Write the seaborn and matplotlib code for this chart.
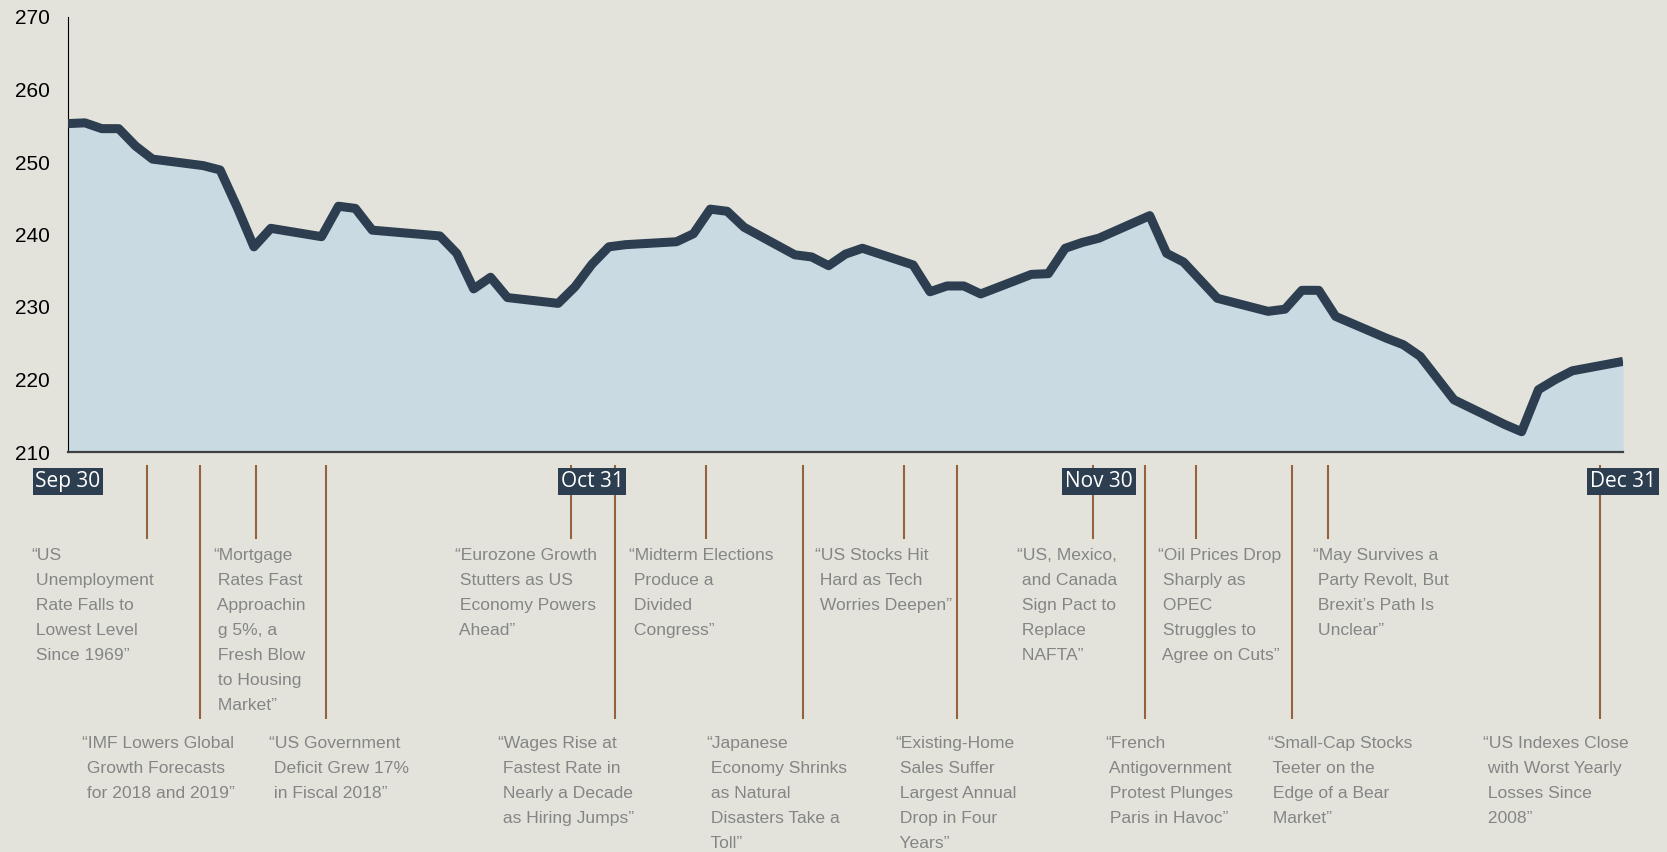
import pandas as pd
import matplotlib.pyplot as plt
import matplotlib.dates as mdates
import matplotlib.font_manager as fm
import seaborn as sns

# Index level, Q4 2018
dates = [
    "2018-09-30", "2018-10-01", "2018-10-02", "2018-10-03", "2018-10-04", "2018-10-05",
    "2018-10-08", "2018-10-09", "2018-10-10", "2018-10-11", "2018-10-12",
    "2018-10-15", "2018-10-16", "2018-10-17", "2018-10-18",
    "2018-10-22", "2018-10-23", "2018-10-24", "2018-10-25", "2018-10-26",
    "2018-10-29", "2018-10-30", "2018-10-31", "2018-11-01", "2018-11-02",
    "2018-11-05", "2018-11-06", "2018-11-07", "2018-11-08", "2018-11-09",
    "2018-11-12", "2018-11-13", "2018-11-14", "2018-11-15", "2018-11-16",
    "2018-11-19", "2018-11-20", "2018-11-21", "2018-11-22", "2018-11-23",
    "2018-11-26", "2018-11-27", "2018-11-28", "2018-11-29", "2018-11-30",
    "2018-12-03", "2018-12-04", "2018-12-05", "2018-12-06", "2018-12-07",
    "2018-12-10", "2018-12-11", "2018-12-12", "2018-12-13", "2018-12-14",
    "2018-12-17", "2018-12-18", "2018-12-19", "2018-12-20", "2018-12-21",
    "2018-12-24", "2018-12-25", "2018-12-26", "2018-12-27", "2018-12-28",
    "2018-12-31",
]
values = [
    255.3, 255.4, 254.6, 254.6, 252.2, 250.4,
    249.5, 248.9, 243.8, 238.3, 240.85,
    239.7, 243.9, 243.6, 240.6,
    239.8, 237.4, 232.5, 234.1, 231.3,
    230.5, 232.8, 235.9, 238.3, 238.6,
    239.0, 240.1, 243.5, 243.2, 241.0,
    237.2, 236.9, 235.7, 237.3, 238.1,
    235.8, 232.1, 232.9, 232.9, 231.8,
    234.5, 234.6, 238.1, 238.9, 239.5,
    242.6, 237.4, 236.2, 233.7, 231.2,
    229.4, 229.7, 232.3, 232.3, 228.7,
    225.7, 224.8, 223.2, 220.2, 217.2,
    213.8, 212.8, 218.6, 220.0, 221.2,
    222.5,
]

month_dates = ["2018-09-30", "2018-10-31", "2018-11-30", "2018-12-31"]
month_labels = ["Sep 30", "Oct 31", "Nov 30", "Dec 31"]

event_dates = [
    "2018-10-04 16:00", "2018-10-07 19:00", "2018-10-11 03:00", "2018-10-15 07:00",
    "2018-10-29 18:00", "2018-11-01 09:00", "2018-11-06 18:00", "2018-11-12 11:00",
    "2018-11-18 11:00", "2018-11-21 15:00", "2018-11-29 16:00", "2018-12-02 17:00",
    "2018-12-05 17:00", "2018-12-11 10:00", "2018-12-13 13:00", "2018-12-29 15:00",
]
event_rows = [0, 1, 0, 1, 0, 1, 0, 1, 0, 1, 0, 1, 0, 1, 0, 1]
event_labels = [
    "\u201cUS\n Unemployment\n Rate Falls to\n Lowest Level\n Since 1969\u201d",
    "\u201cIMF Lowers Global\n Growth Forecasts\n for 2018 and 2019\u201d",
    "\u201cMortgage\n Rates Fast\n Approachin\n g 5%, a\n Fresh Blow\n to Housing\n Market\u201d",
    "\u201cUS Government\n Deficit Grew 17%\n in Fiscal 2018\u201d",
    "\u201cEurozone Growth\n Stutters as US\n Economy Powers\n Ahead\u201d",
    "\u201cWages Rise at\n Fastest Rate in\n Nearly a Decade\n as Hiring Jumps\u201d",
    "\u201cMidterm Elections\n Produce a\n Divided\n Congress\u201d",
    "\u201cJapanese\n Economy Shrinks\n as Natural\n Disasters Take a\n Toll\u201d",
    "\u201cUS Stocks Hit\n Hard as Tech\n Worries Deepen\u201d",
    "\u201cExisting-Home\n Sales Suffer\n Largest Annual\n Drop in Four\n Years\u201d",
    "\u201cUS, Mexico,\n and Canada\n Sign Pact to\n Replace\n NAFTA\u201d",
    "\u201cFrench\n Antigovernment\n Protest Plunges\n Paris in Havoc\u201d",
    "\u201cOil Prices Drop\n Sharply as\n OPEC\n Struggles to\n Agree on Cuts\u201d",
    "\u201cSmall-Cap Stocks\n Teeter on the\n Edge of a Bear\n Market\u201d",
    "\u201cMay Survives a\n Party Revolt, But\n Brexit\u2019s Path Is\n Unclear\u201d",
    "\u201cUS Indexes Close\n with Worst Yearly\n Losses Since\n 2008\u201d",
]

# layout (figure pixels)
W, H = 1667, 852
text_left = [31, 82, 213, 269, 455, 498, 629, 706, 815, 895, 1017, 1105, 1158, 1268, 1313, 1483]
row_top = [548, 736]
row_line_end = [-0.2, -0.614]   # axes fraction

bg = "#e3e3dc"
navy = "#2c3e50"
fill = "#c9dae2"
brown = "#93643c"
grey_text = "#858585"

sns.set_theme(style="white")
plt.rcParams["font.family"] = ["Liberation Sans", "DejaVu Sans"]

names = {f.name for f in fm.fontManager.ttflist}
if "Liberation Sans Narrow" in names:
    note_font, note_size, note_spacing = "Liberation Sans Narrow", 15, 1.33
else:
    note_font, note_size, note_spacing = "Liberation Sans", 12.6, 1.84

df = pd.DataFrame({"date": pd.to_datetime(dates), "value": values})

fig = plt.figure(figsize=(W / 100, H / 100), dpi=100, facecolor=bg)
ax = fig.add_axes([68 / W, 1 - 452 / H, (1623 - 68) / W, 435 / H])
ax.set_facecolor(bg)

ax.fill_between(df["date"], 210, df["value"], color=fill, linewidth=0, zorder=1)
sns.lineplot(data=df, x="date", y="value", ax=ax, color=navy, linewidth=6.5, zorder=3)
ax.lines[0].set_solid_joinstyle("round")
ax.lines[0].set_solid_capstyle("butt")

ax.set_xlim(pd.Timestamp(month_dates[0]), pd.Timestamp(month_dates[-1]))
ax.set_ylim(210, 270)
ax.set_yticks(range(210, 271, 10))
ax.set_xticks([])
ax.set_xlabel("")
ax.set_ylabel("")
ax.tick_params(axis="y", length=0, pad=13, labelsize=15, labelcolor="black")

for s in ["top", "right"]:
    ax.spines[s].set_visible(False)
ax.spines["left"].set_color("black")
ax.spines["left"].set_linewidth(0.8)
ax.spines["bottom"].set_color("#404040")
ax.spines["bottom"].set_linewidth(1.6)

xt = ax.get_xaxis_transform()

# event marker lines
for d, r in zip(event_dates, event_rows):
    ax.vlines(mdates.date2num(pd.Timestamp(d)), -0.03, row_line_end[r], transform=xt,
              color=brown, linewidth=1.5, clip_on=False, zorder=2)

# month boxes
for d, lab in zip(month_dates, month_labels):
    ax.text(mdates.date2num(pd.Timestamp(d)), -0.0683, lab, transform=xt,
            ha="center", va="center", color="white", fontsize=15,
            family=["Open Sans", "DejaVu Sans"], zorder=5, clip_on=False,
            bbox=dict(boxstyle="square,pad=0.14", fc=navy, ec="none"))

# headlines
for lab, x, r in zip(event_labels, text_left, event_rows):
    fig.text(x / W, 1 - row_top[r] / H, lab, ha="left", va="top",
             color=grey_text, fontsize=note_size, family=[note_font, "DejaVu Sans"],
             linespacing=note_spacing)

fig.savefig("out.png", dpi=100, facecolor=bg)
